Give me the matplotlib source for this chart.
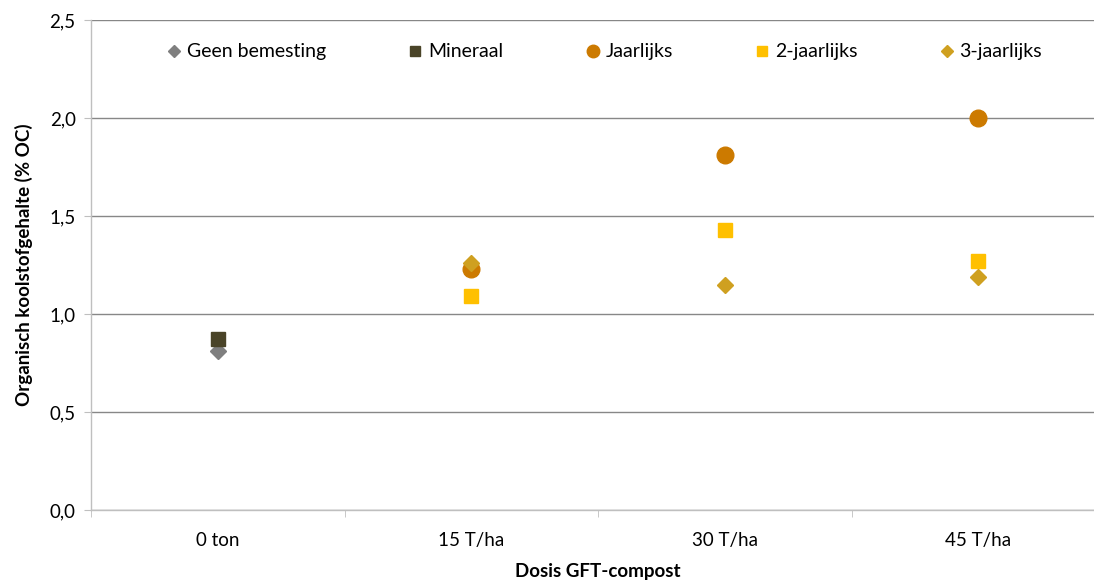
import matplotlib.pyplot as plt
import numpy as np

plt.rcParams["font.family"] = ["Lato", "DejaVu Sans"]

categories = ["0 ton", "15 T/ha", "30 T/ha", "45 T/ha"]
series_names = ["Geen bemesting", "Mineraal", "Jaarlijks", "2-jaarlijks", "3-jaarlijks"]
geen_bemesting = [0.81, np.nan, np.nan, np.nan]
mineraal = [0.87, np.nan, np.nan, np.nan]
jaarlijks = [np.nan, 1.23, 1.81, 2.00]
tweejaarlijks = [np.nan, 1.09, 1.43, 1.27]
driejaarlijks = [np.nan, 1.26, 1.15, 1.19]

colors = ["#7F7F7F", "#4A4428", "#CC7A00", "#FFC000", "#CFA020"]
markers = ["D", "s", "o", "s", "D"]
sizes = [8, 10, 12, 10, 8]

fig = plt.figure(figsize=(10.94, 5.8), dpi=100)
ax = fig.add_axes([91/1094, 70/580, 1014/1094, 490/580])

x = np.arange(len(categories))
values = [geen_bemesting, mineraal, jaarlijks, tweejaarlijks, driejaarlijks]
for name, vals, c, m, s in zip(series_names, values, colors, markers, sizes):
    ax.plot(x, vals, linestyle="none", marker=m, color=c, markersize=s, label=name, zorder=3)

ax.set_xlim(-0.5, 3.5)
ax.set_ylim(0, 2.5)
ax.set_yticks(np.arange(0, 2.51, 0.5))
ax.set_yticklabels([f"{v:.1f}".replace(".", ",") for v in np.arange(0, 2.51, 0.5)])
ax.set_xticks(x)
ax.set_xticklabels(categories)
ax.set_xticks([-0.5, 0.5, 1.5, 2.5], minor=True)

ax.grid(axis="y", color="#878787", linewidth=1)
ax.set_axisbelow(True)
for s in ["top", "right"]:
    ax.spines[s].set_visible(False)
for s in ["left", "bottom"]:
    ax.spines[s].set_color("#BFBFBF")
    ax.spines[s].set_linewidth(1)

ax.tick_params(axis="y", length=5, color="#BFBFBF", labelsize=13.5, pad=6)
ax.tick_params(axis="x", which="major", length=0, labelsize=13.5, pad=16)
ax.tick_params(axis="x", which="minor", length=5, color="#BFBFBF")

ax.set_xlabel("Dosis GFT-compost", fontsize=13.5, fontweight="bold", labelpad=10)
ax.set_ylabel("Organisch koolstofgehalte (% OC)", fontsize=13.5, fontweight="bold", labelpad=12)

leg = ax.legend(ncol=5, loc="upper left", bbox_to_anchor=(54/1014, 1.0), frameon=False,
                fontsize=14, markerscale=0.75, handlelength=0.6, handletextpad=0.35,
                columnspacing=4.3, borderaxespad=0.8)

plt.savefig("out.png", dpi=100)
